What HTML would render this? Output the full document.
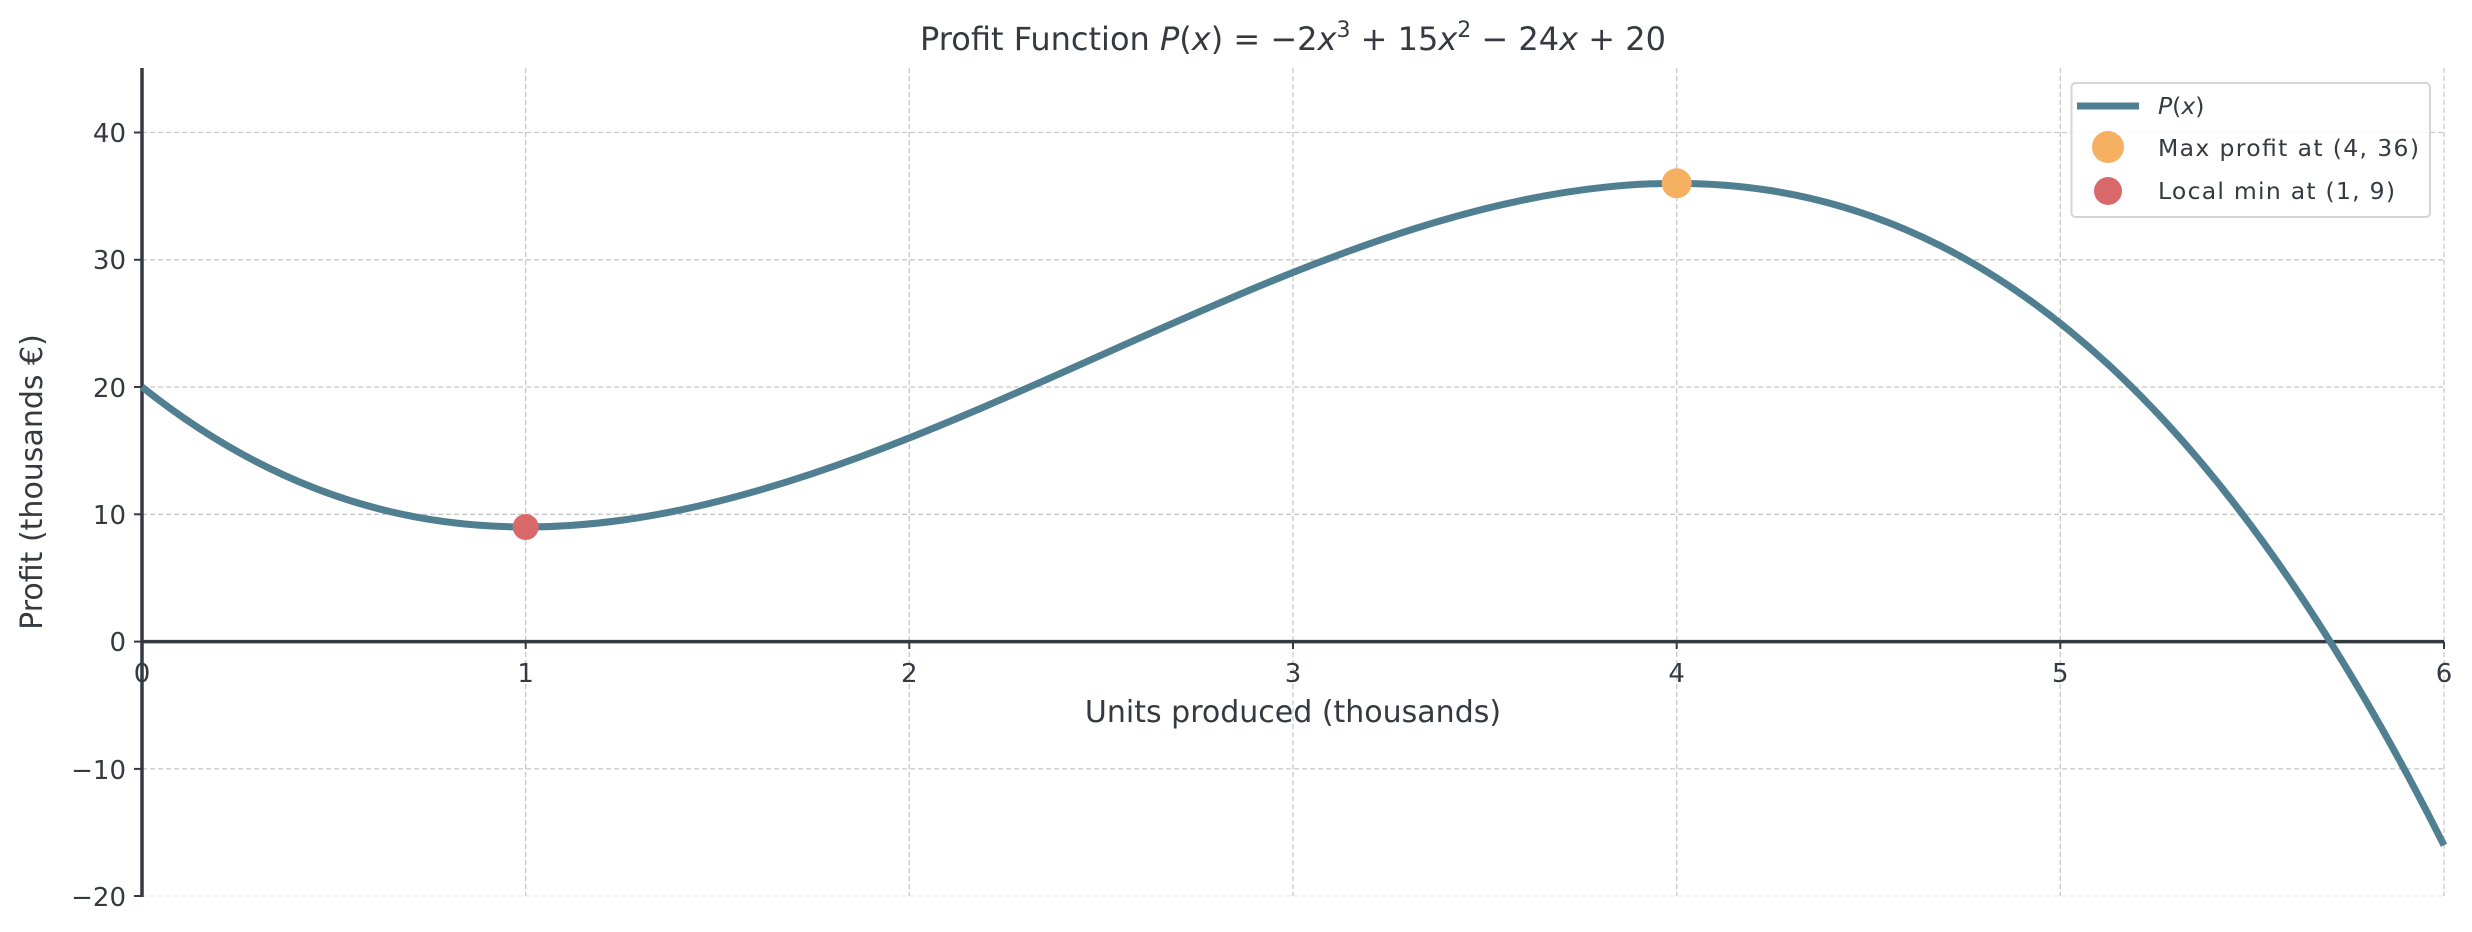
<!DOCTYPE html>
<html><head><meta charset="utf-8"><style>
html,body{margin:0;padding:0;background:#fff;}
svg{display:block;font-family:"DejaVu Sans","Liberation Sans",sans-serif;}
</style></head><body>
<svg width="2472" height="932" viewBox="0 0 2472 932" xmlns="http://www.w3.org/2000/svg">
<rect width="2472" height="932" fill="#fff"/>
<g stroke="#c8c8c8" stroke-width="1.3" stroke-dasharray="5,3">
<line x1="525.7" y1="68" x2="525.7" y2="896"/>
<line x1="909.3" y1="68" x2="909.3" y2="896"/>
<line x1="1293" y1="68" x2="1293" y2="896"/>
<line x1="1676.7" y1="68" x2="1676.7" y2="896"/>
<line x1="2060.3" y1="68" x2="2060.3" y2="896"/>
<line x1="2444" y1="68" x2="2444" y2="896"/>
<line x1="142" y1="132.5" x2="2444" y2="132.5"/>
<line x1="142" y1="259.8" x2="2444" y2="259.8"/>
<line x1="142" y1="387" x2="2444" y2="387"/>
<line x1="142" y1="514.3" x2="2444" y2="514.3"/>
<line x1="142" y1="768.9" x2="2444" y2="768.9"/>
<line x1="142" y1="896" x2="2444" y2="896" stroke="#eee"/>
</g>
<line x1="142" y1="641.6" x2="2444" y2="641.6" stroke="#343a40" stroke-width="3.5"/>
<line x1="142" y1="68" x2="142" y2="897" stroke="#343a40" stroke-width="3.5"/>
<g stroke="#343a40" stroke-width="2">
<line x1="134" y1="132.5" x2="142" y2="132.5"/><line x1="134" y1="259.8" x2="142" y2="259.8"/>
<line x1="134" y1="387" x2="142" y2="387"/><line x1="134" y1="514.3" x2="142" y2="514.3"/>
<line x1="134" y1="641.6" x2="142" y2="641.6"/><line x1="134" y1="768.9" x2="142" y2="768.9"/>
<line x1="134" y1="896" x2="142" y2="896"/>
<line x1="525.7" y1="641.6" x2="525.7" y2="649"/><line x1="909.3" y1="641.6" x2="909.3" y2="649"/>
<line x1="1293" y1="641.6" x2="1293" y2="649"/><line x1="1676.7" y1="641.6" x2="1676.7" y2="649"/>
<line x1="2060.3" y1="641.6" x2="2060.3" y2="649"/><line x1="2444" y1="641.6" x2="2444" y2="649"/>
</g>
<g fill="#343a40" font-size="26" text-anchor="end">
<text x="126" y="142">40</text><text x="126" y="269">30</text><text x="126" y="397">20</text>
<text x="126" y="524">10</text><text x="126" y="651">0</text><text x="126" y="779">−10</text><text x="126" y="906">−20</text>
</g>
<g fill="#343a40" font-size="26" text-anchor="middle">
<text x="142" y="682">0</text><text x="525.7" y="682">1</text><text x="909.3" y="682">2</text>
<text x="1293" y="682">3</text><text x="1676.7" y="682">4</text><text x="2060.3" y="682">5</text><text x="2444" y="682">6</text>
<text x="1293" y="722" font-size="30">Units produced (thousands)</text>
<text x="1293" y="50" font-size="32">Profit Function <tspan font-style="italic">P</tspan>(<tspan font-style="italic">x</tspan>)  =  −2<tspan font-style="italic">x</tspan><tspan font-size="22" dy="-13">3</tspan><tspan dy="13">  +  15</tspan><tspan font-style="italic">x</tspan><tspan font-size="22" dy="-13">2</tspan><tspan dy="13">  −  24</tspan><tspan font-style="italic">x</tspan>  +  20</text>
<text transform="translate(42,482) rotate(-90)" font-size="30">Profit (thousands €)</text>
</g>
<path d="M142,387 C909.3,998 1676.7,-682.3 2444,845.3" fill="none" stroke="#507f91" stroke-width="7"/>
<circle cx="1676.7" cy="183.3" r="15" fill="#f5b062"/>
<circle cx="525.7" cy="527" r="13" fill="#d9686a"/>
<rect x="2071.5" y="83" width="358.5" height="134" rx="4" fill="#fff" fill-opacity="0.85" stroke="#d5d5d5" stroke-width="2"/>
<line x1="2077" y1="106" x2="2139" y2="106" stroke="#507f91" stroke-width="7"/>
<circle cx="2108" cy="147" r="16" fill="#f5b062"/>
<circle cx="2108" cy="191" r="14" fill="#d9686a"/>
<g fill="#343a40" font-size="23.5">
<text x="2158" y="114"><tspan font-style="italic">P</tspan>(<tspan font-style="italic">x</tspan>)</text>
<text x="2158" y="156" textLength="261">Max profit at (4, 36)</text>
<text x="2158" y="199" textLength="237">Local min at (1, 9)</text>
</g>
</svg>
</body></html>
